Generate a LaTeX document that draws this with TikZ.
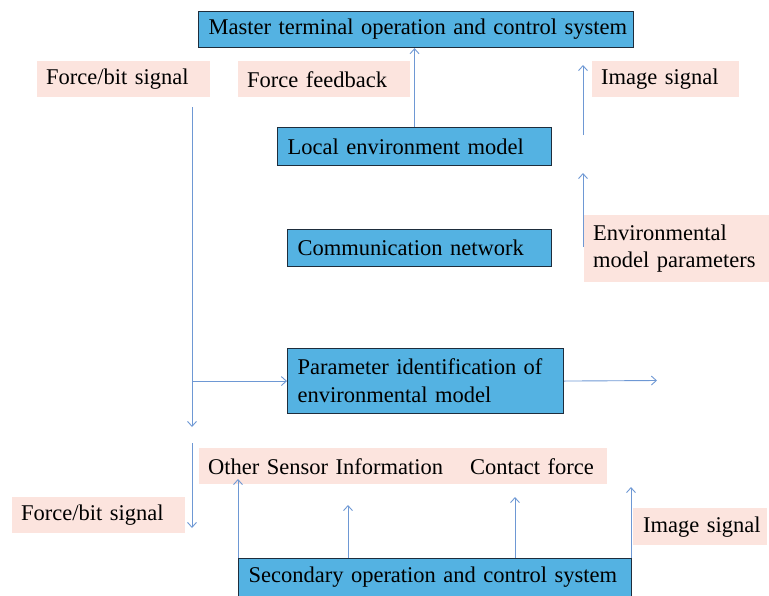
\documentclass[tikz,border=0pt]{standalone}
\usepackage{fontspec}
\setmainfont{Liberation Serif}
\usepackage{tikz}
\usetikzlibrary{arrows.meta}
\definecolor{boxblue}{RGB}{84,178,226}
\definecolor{boxline}{RGB}{30,45,60}
\definecolor{tagpink}{RGB}{252,228,222}
\definecolor{wireblue}{RGB}{110,152,212}

\begin{document}
\begin{tikzpicture}[x=1pt,y=-1pt,
  blk/.style={draw=boxline,line width=1.1pt,fill=boxblue,anchor=north west,inner xsep=10pt,inner ysep=0pt,align=left,font=\fontsize{22.5}{28}\selectfont},
  tag/.style={fill=tagpink,anchor=north west,inner xsep=9pt,inner ysep=0pt,align=left,font=\fontsize{22.5}{27}\selectfont},
  wire/.style={wireblue,line width=0.9pt,-{Straight Barb[length=5pt,width=9pt]}}]
\useasboundingbox (0,0) rectangle (769,595);
\clip (0,0) rectangle (769,595);
% signal labels
\node[tag,text width=155pt,minimum height=36pt] (fbsup) at (37,61) {\mbox{Force/bit signal}};
\node[tag,text width=154pt,minimum height=36pt] (feedback) at (238,61) {\mbox{Force feedback}};
\node[tag,text width=129pt,minimum height=36pt] (imgup) at (592,61) {\mbox{Image signal}};
\node[tag,text width=167pt,minimum height=67pt] (envpar) at (584,215) {Environmental\\model parameters};
\node[tag,text width=241pt,minimum height=36pt] (sensor) at (199,448) {\mbox{Other Sensor Information}};
\node[tag,inner xsep=12pt,text width=125pt,minimum height=36pt] (contact) at (458,448) {\mbox{Contact force}};
\node[tag,text width=155pt,minimum height=36pt] (fbsdown) at (12,497) {\mbox{Force/bit signal}};
\node[tag,inner xsep=10pt,text width=114pt,minimum height=37pt] (imgdown) at (633,508) {\mbox{Image signal}};
% blocks
\node[blk,text width=415pt,minimum height=36pt] (master) at (198,11) {\mbox{Master terminal operation and control system}};
\node[blk,text width=254pt,minimum height=38pt] (locenv) at (277,127) {\mbox{Local environment model}};
\node[blk,text width=244pt,minimum height=37pt] (comm) at (287,229) {\mbox{Communication network}};
\node[blk,text width=256pt,minimum height=65pt] (paramid) at (287,348) {Parameter identification of\\environmental model};
\node[blk,text width=373pt,minimum height=38pt] (slave) at (238,558) {\mbox{Secondary operation and control system}};
% free ends
\coordinate (imgfoot) at (583,135); \coordinate (imgtip) at (583,65);
\coordinate (envfoot) at (583,247); \coordinate (envtip) at (583,173);
\coordinate (fbstop) at (192,107); \coordinate (fbsend) at (192,427);
\coordinate (fbstop2) at (192,443); \coordinate (fbsend2) at (192,528);
\coordinate (paramout) at (657,380.5);
% connectors
\draw[wire] (locenv.north) -- (locenv.north |- master.south);
\draw[wire] (imgfoot) -- (imgtip);
\draw[wire] (envfoot) -- (envtip);
\draw[wire] (fbstop) -- (fbsend);
\draw[wire] (fbstop |- paramid.west) -- (paramid.west);
\draw[wire] (paramid.east) -- (paramout);
\draw[wire] (fbstop2) -- (fbsend2);
\foreach \x/\t [count=\i] in {238/479, 348/505, 515/497, 631/487} {
  \coordinate (uptip\i) at (\x,\t);
  \draw[wire] (uptip\i |- slave.north) -- (uptip\i);
}
\end{tikzpicture}
\end{document}
